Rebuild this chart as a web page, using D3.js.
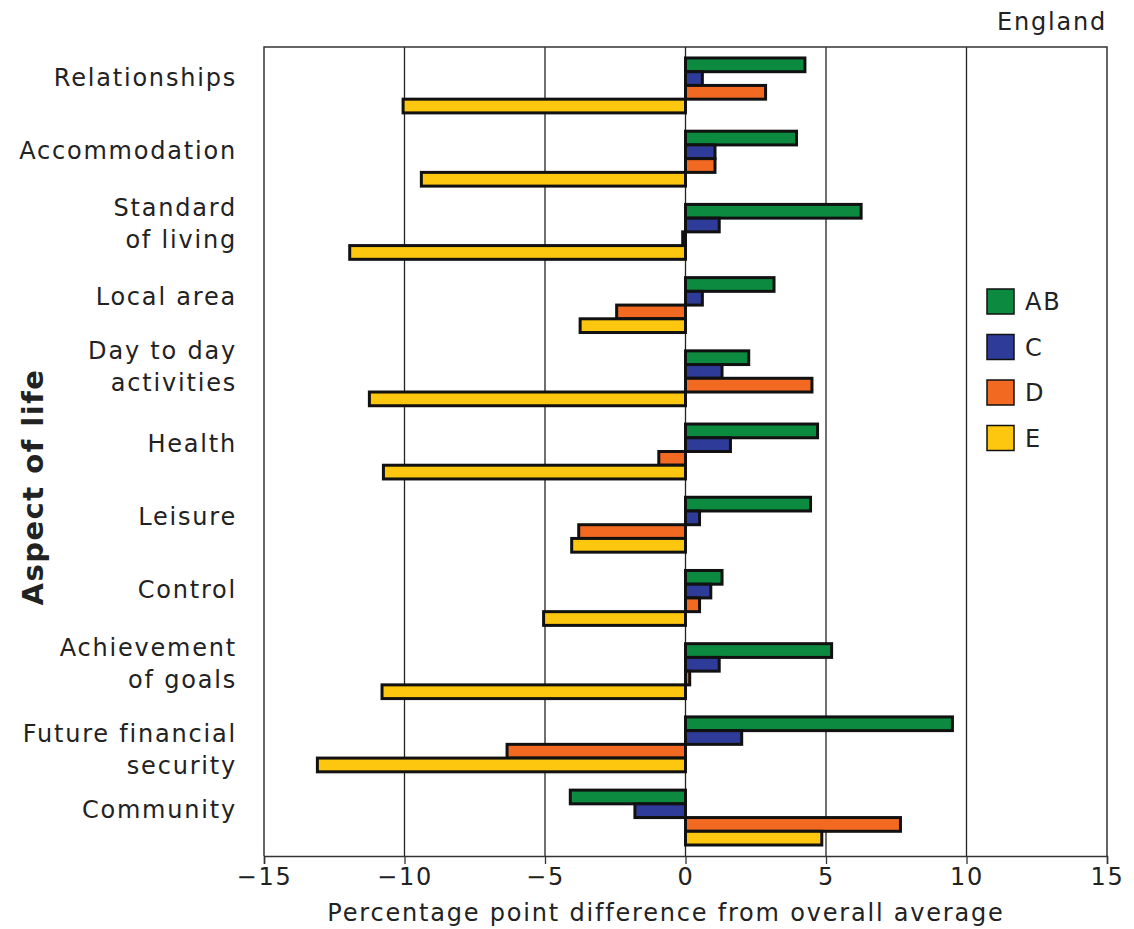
<!DOCTYPE html>
<html><head><meta charset="utf-8">
<script src="https://cdn.jsdelivr.net/npm/d3@7"></script>
<style>body{margin:0;background:#fff}svg{display:block}text{font-family:"DejaVu Sans",Verdana,sans-serif;fill:#222}</style>
</head><body><svg id="c" width="1134" height="929"></svg>
<script>
const categories = ["Relationships","Accommodation","Standard\nof living","Local area","Day to day\nactivities","Health","Leisure","Control","Achievement\nof goals","Future financial\nsecurity","Community"];
const seriesNames = ["AB","C","D","E"];
const seriesColors = ["#0b8a40","#2e3b98","#f26a22","#fdc60f"];
const valuesAB = [4.25, 3.95, 6.25, 3.15, 2.25, 4.7, 4.45, 1.3, 5.2, 9.5, -4.1];
const valuesC  = [0.6, 1.05, 1.2, 0.6, 1.3, 1.6, 0.5, 0.9, 1.2, 2.0, -1.8];
const valuesD  = [2.85, 1.05, -0.1, -2.45, 4.5, -0.95, -3.8, 0.5, 0.15, -6.35, 7.65];
const valuesE  = [-10.05, -9.4, -11.95, -3.75, -11.25, -10.75, -4.05, -5.05, -10.8, -13.1, 4.85];
const xTicks = [-15,-10,-5,0,5,10,15];
const gridTicks = [-10,-5,5,10];

const series = [valuesAB, valuesC, valuesD, valuesE];
const svg = d3.select("#c");
const L = 264, R = 1107, T = 47, B = 856;
const LS = "1.8px";
const x = d3.scaleLinear().domain([-15,15]).range([L,R]);
const y = d3.scaleBand().domain(categories).range([T,B]).paddingInner(0.25).paddingOuter(0.15);
const ys = d3.scaleBand().domain(seriesNames).range([0,y.bandwidth()]);
// small per-label vertical nudges (layout only)
const labelNudge = {"Day to day\nactivities":-4, "Future financial\nsecurity":13};

svg.append("g").selectAll("line").data(gridTicks).join("line")
  .attr("x1",d=>x(d)).attr("x2",d=>x(d)).attr("y1",T).attr("y2",B)
  .attr("stroke","#222").attr("stroke-width",1.3);
svg.append("path").attr("d",`M${L},${B}V${T}H${R}V${B}`).attr("fill","none").attr("stroke","#333").attr("stroke-width",1.5);
svg.append("line").attr("x1",x(0)).attr("x2",x(0)).attr("y1",T).attr("y2",B).attr("stroke","#222").attr("stroke-width",1.3);

const rows = [];
categories.forEach((c,i)=>series.forEach((s,j)=>rows.push({c,s:seriesNames[j],v:s[i],col:seriesColors[j]})));
svg.append("g").selectAll("rect").data(rows).join("rect")
  .attr("x",d=>x(Math.min(0,d.v))).attr("width",d=>Math.abs(x(d.v)-x(0)))
  .attr("y",d=>y(d.c)+ys(d.s)).attr("height",ys.bandwidth())
  .attr("fill",d=>d.col).attr("stroke","#111").attr("stroke-width",3);

const xa = svg.append("g").attr("transform",`translate(0,${B})`)
  .call(d3.axisBottom(x).tickValues(xTicks).tickSize(8).tickPadding(4).tickFormat(d=>d<0?"\u2212"+Math.abs(d):d));
xa.select(".domain").attr("stroke","#333").attr("stroke-width",1.5);
xa.selectAll(".tick line").attr("stroke","#333").attr("stroke-width",1.3);
xa.selectAll(".tick text").style("font-family","DejaVu Sans").style("font-size","24px").style("letter-spacing",LS).attr("fill","#222");

svg.append("g").selectAll("text").data(categories).join("text")
  .attr("text-anchor","end").attr("x",237)
  .style("font-size","24px").style("letter-spacing",LS)
  .each(function(d){
    const lines = d.split("\n");
    const cy = y(d)+y.bandwidth()/2 - 8 + (labelNudge[d]||0);
    const lh = 32;
    d3.select(this).selectAll("tspan").data(lines).join("tspan")
      .attr("x",237).attr("y",(l,k)=>cy + (k-(lines.length-1)/2)*lh).attr("dy","0.35em").text(l=>l);
  });

svg.append("text").attr("x",666).attr("y",913).attr("dy","0.35em").attr("text-anchor","middle")
  .style("font-size","24px").style("letter-spacing",LS).text("Percentage point difference from overall average");
svg.append("text").attr("transform","translate(33,487) rotate(-90)").attr("dy","0.35em").attr("text-anchor","middle")
  .style("font-size","29px").style("font-weight","bold").style("letter-spacing","1.5px").attr("fill","#111").text("Aspect of life");
svg.append("text").attr("x",R).attr("y",22).attr("dy","0.35em").attr("text-anchor","end")
  .style("font-size","24px").style("letter-spacing",LS).text("England");

const lg = svg.append("g").attr("transform","translate(987,289)");
const li = lg.selectAll("g").data(seriesNames).join("g").attr("transform",(d,i)=>`translate(0,${i*45.5})`);
li.append("rect").attr("width",27).attr("height",25).attr("fill",(d,i)=>seriesColors[i]).attr("stroke","#111").attr("stroke-width",1.5);
li.append("text").attr("x",38).attr("y",13).attr("dy","0.35em").style("font-size","24px").style("letter-spacing",LS).text(d=>d);
</script></body></html>
